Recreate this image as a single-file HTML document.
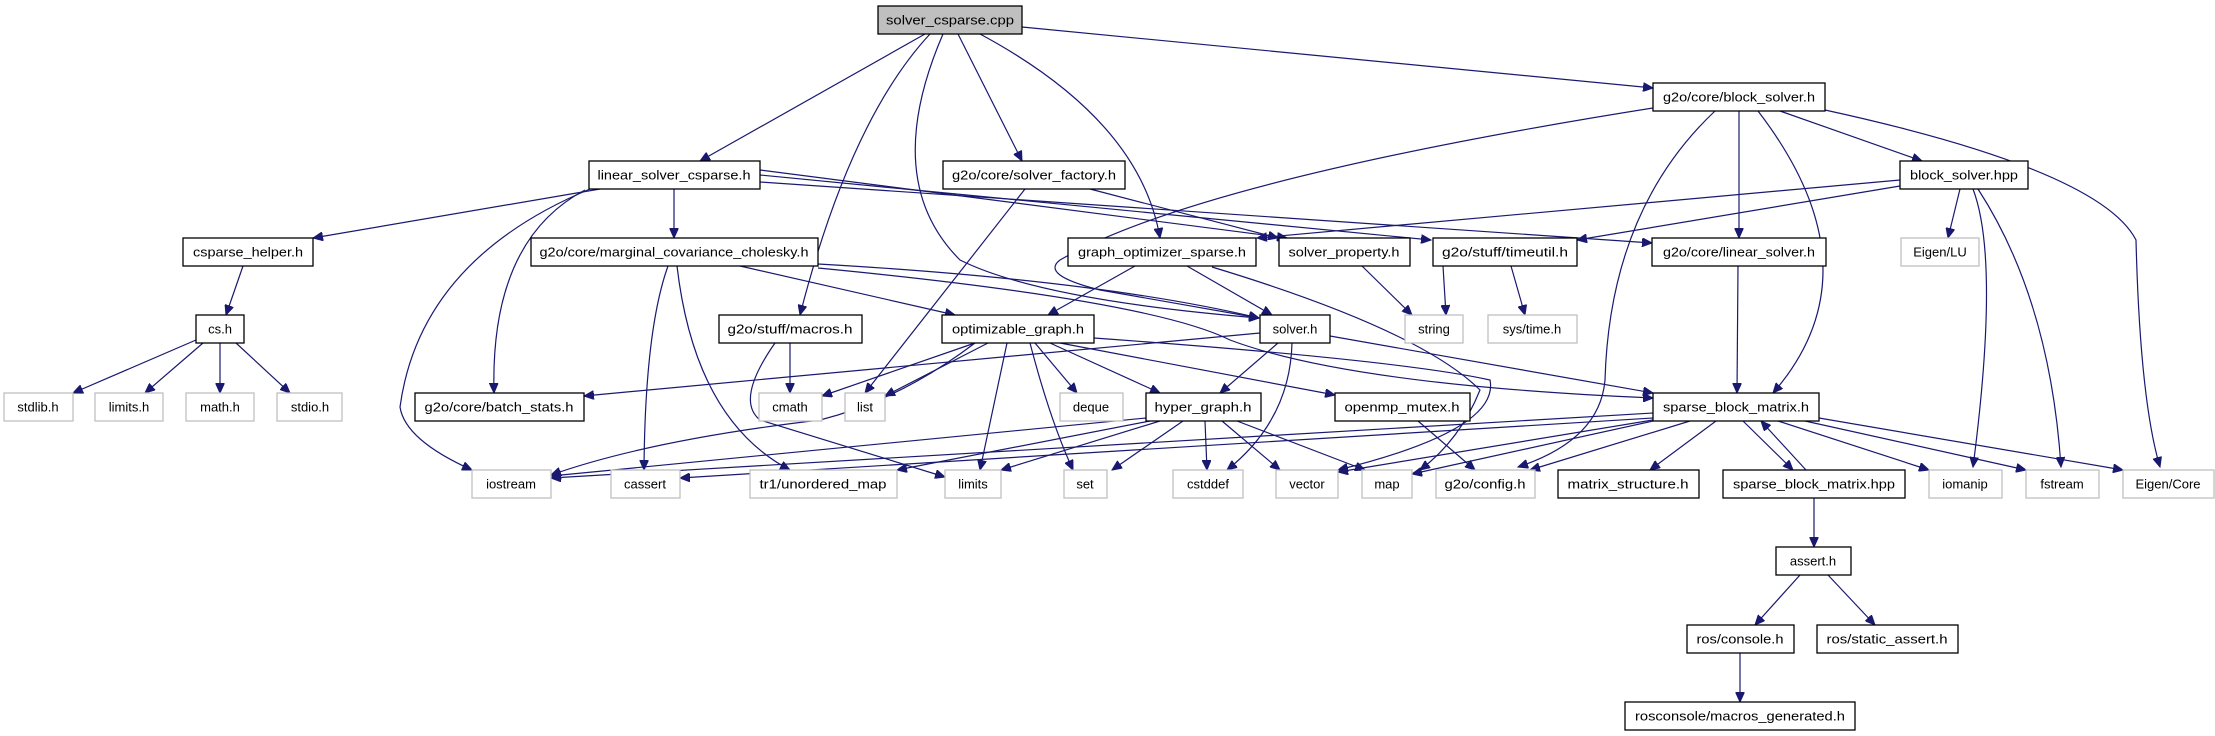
<!DOCTYPE html>
<html><head><meta charset="utf-8"><style>
html,body{margin:0;padding:0;background:#fff;}
svg{display:block}
text{font-family:"Liberation Sans",sans-serif;font-size:13px;fill:#000;text-anchor:middle;dominant-baseline:central}
.b{fill:#fff;stroke:#000;stroke-width:1.3}
.g{fill:#fff;stroke:#bfbfbf;stroke-width:1.3}
.e{fill:none;stroke:#191970;stroke-width:1.2;marker-end:url(#a)}
</style></head><body>
<svg width="2215" height="736" viewBox="0 0 2215 736" xmlns="http://www.w3.org/2000/svg">
<defs><marker id="a" markerWidth="11" markerHeight="9" refX="10" refY="4.5" orient="auto" markerUnits="userSpaceOnUse"><path d="M0,0 L10,4.5 L0,9 Z" fill="#191970" stroke="#191970"/></marker></defs>
<g>
<!-- root edges -->
<path class="e" d="M925,34 L700,161"/>
<path class="e" d="M930,34 Q850,120 800,315"/>
<path class="e" d="M943,34 Q880,180 960,260 Q1040,300 1259,318"/>
<path class="e" d="M958,34 L1022,161"/>
<path class="e" d="M980,34 Q1140,120 1160,238"/>
<path class="e" d="M1022,27 L1653,88"/>
<!-- block_solver.h -->
<path class="e" d="M1653,108 Q1200,180 1060,260 Q1040,275 1100,290 L1259,318"/>
<path class="e" d="M1715,111 Q1610,210 1605,380 Q1600,440 1518,467"/>
<path class="e" d="M1739,111 L1739,238"/>
<path class="e" d="M1758,111 Q1880,270 1773,393"/>
<path class="e" d="M1780,111 L1922,161"/>
<path class="e" d="M1825,110 Q2100,170 2136,240 Q2140,400 2160,467"/>
<!-- block_solver.hpp -->
<path class="e" d="M1900,180 L1257,238"/>
<path class="e" d="M1900,186 L1577,240"/>
<path class="e" d="M1960,189 L1948,238"/>
<path class="e" d="M1973,189 Q2000,260 1973,467"/>
<path class="e" d="M1978,189 Q2050,300 2061,467"/>
<!-- linear_solver_csparse.h -->
<path class="e" d="M600,189 L313,238"/>
<path class="e" d="M674,189 L674,238"/>
<path class="e" d="M585,190 Q490,240 494,393"/>
<path class="e" d="M590,189 Q420,260 400,407 Q405,440 472,470"/>
<path class="e" d="M760,170 L1287,238"/>
<path class="e" d="M760,175 L1431,240"/>
<path class="e" d="M760,182 L1652,243"/>
<!-- solver_factory.h -->
<path class="e" d="M1025,189 L865,393"/>
<path class="e" d="M1090,189 L1278,238"/>
<!-- marginal_cov -->
<path class="e" d="M668,266 Q645,330 644,470"/>
<path class="e" d="M677,266 Q695,420 790,470"/>
<path class="e" d="M740,266 L955,315"/>
<path class="e" d="M818,264 Q1100,280 1259,318"/>
<path class="e" d="M818,268 Q1150,300 1230,340 Q1350,385 1653,398"/>
<!-- macros.h -->
<path class="e" d="M790,343 L790,393"/>
<path class="e" d="M775,343 Q735,400 760,420 L945,477"/>
<!-- graph_optimizer_sparse.h -->
<path class="e" d="M1135,266 L1048,315"/>
<path class="e" d="M1187,266 L1272,315"/>
<path class="e" d="M1212,267 Q1420,330 1480,390 Q1460,440 1420,470"/>
<!-- solver_property / timeutil -->
<path class="e" d="M1362,266 L1412,315"/>
<path class="e" d="M1443,266 L1446,315"/>
<path class="e" d="M1511,266 L1525,315"/>
<path class="e" d="M1738,266 L1737,393"/>
<!-- csparse_helper / cs.h -->
<path class="e" d="M243,266 L226,315"/>
<path class="e" d="M196,340 L73,393"/>
<path class="e" d="M203,343 L145,393"/>
<path class="e" d="M220,343 L220,393"/>
<path class="e" d="M236,343 L290,393"/>
<!-- optimizable_graph.h -->
<path class="e" d="M975,343 L822,396"/>
<path class="e" d="M988,343 L885,396"/>
<path class="e" d="M975,343 Q900,400 820,420 Q650,440 551,475"/>
<path class="e" d="M1007,343 L980,470"/>
<path class="e" d="M1030,343 Q1050,420 1073,470"/>
<path class="e" d="M1035,343 L1077,393"/>
<path class="e" d="M1050,343 L1160,393"/>
<path class="e" d="M1060,343 L1335,395"/>
<path class="e" d="M1094,338 Q1400,360 1490,380 Q1500,430 1338,470"/>
<!-- solver.h -->
<path class="e" d="M1260,333 L584,396"/>
<path class="e" d="M1278,343 L1220,393"/>
<path class="e" d="M1292,343 Q1290,420 1227,470"/>
<path class="e" d="M1330,336 L1653,393"/>
<!-- hyper_graph.h -->
<path class="e" d="M1146,418 L551,476"/>
<path class="e" d="M1150,421 L897,470"/>
<path class="e" d="M1160,421 L1001,470"/>
<path class="e" d="M1183,421 L1112,470"/>
<path class="e" d="M1205,421 L1207,470"/>
<path class="e" d="M1222,421 L1280,470"/>
<path class="e" d="M1237,421 L1365,470"/>
<path class="e" d="M1418,421 L1475,470"/>
<!-- sparse_block_matrix.h -->
<path class="e" d="M1653,413 L551,478"/>
<path class="e" d="M1653,418 L680,478"/>
<path class="e" d="M1653,420 L1338,472"/>
<path class="e" d="M1653,421 L1412,474"/>
<path class="e" d="M1690,421 L1530,470"/>
<path class="e" d="M1716,421 L1650,470"/>
<path class="e" d="M1743,421 L1793,470"/>
<path class="e" d="M1806,470 L1761,421"/>
<path class="e" d="M1778,421 L1929,470"/>
<path class="e" d="M1805,421 L2026,470"/>
<path class="e" d="M1819,418 L2123,470"/>
<path class="e" d="M1814,498 L1814,547"/>
<path class="e" d="M1800,575 L1755,625"/>
<path class="e" d="M1828,575 L1875,625"/>
<path class="e" d="M1740,653 L1740,702"/>
</g>
<g>
<rect x="878" y="6" width="144" height="28" fill="#bfbfbf" stroke="#000" stroke-width="1.3"/><text x="950" y="20" textLength="128" lengthAdjust="spacingAndGlyphs">solver_csparse.cpp</text>
<rect class="b" x="1653" y="83" width="172" height="28"/><text x="1739" y="97" textLength="152" lengthAdjust="spacingAndGlyphs">g2o/core/block_solver.h</text>
<rect class="b" x="589" y="161" width="171" height="28"/><text x="674" y="175" textLength="153" lengthAdjust="spacingAndGlyphs">linear_solver_csparse.h</text>
<rect class="b" x="943" y="161" width="182" height="28"/><text x="1034" y="175" textLength="164" lengthAdjust="spacingAndGlyphs">g2o/core/solver_factory.h</text>
<rect class="b" x="1900" y="161" width="128" height="28"/><text x="1964" y="175" textLength="108" lengthAdjust="spacingAndGlyphs">block_solver.hpp</text>
<rect class="b" x="183" y="238" width="130" height="28"/><text x="248" y="252" textLength="110" lengthAdjust="spacingAndGlyphs">csparse_helper.h</text>
<rect class="b" x="531" y="238" width="287" height="28"/><text x="674" y="252" textLength="269" lengthAdjust="spacingAndGlyphs">g2o/core/marginal_covariance_cholesky.h</text>
<rect class="b" x="1068" y="238" width="188" height="28"/><text x="1162" y="252" textLength="168" lengthAdjust="spacingAndGlyphs">graph_optimizer_sparse.h</text>
<rect class="b" x="1279" y="238" width="131" height="28"/><text x="1344" y="252" textLength="111" lengthAdjust="spacingAndGlyphs">solver_property.h</text>
<rect class="b" x="1433" y="238" width="144" height="28"/><text x="1505" y="252" textLength="126" lengthAdjust="spacingAndGlyphs">g2o/stuff/timeutil.h</text>
<rect class="b" x="1652" y="238" width="174" height="28"/><text x="1739" y="252" textLength="152" lengthAdjust="spacingAndGlyphs">g2o/core/linear_solver.h</text>
<rect class="g" x="1901" y="238" width="78" height="28"/><text x="1940" y="252">Eigen/LU</text>
<rect class="b" x="196" y="315" width="48" height="28"/><text x="220" y="329">cs.h</text>
<rect class="b" x="719" y="315" width="143" height="28"/><text x="790" y="329" textLength="125" lengthAdjust="spacingAndGlyphs">g2o/stuff/macros.h</text>
<rect class="b" x="942" y="315" width="152" height="28"/><text x="1018" y="329" textLength="132" lengthAdjust="spacingAndGlyphs">optimizable_graph.h</text>
<rect class="b" x="1260" y="315" width="70" height="28"/><text x="1295" y="329">solver.h</text>
<rect class="g" x="1405" y="315" width="58" height="28"/><text x="1434" y="329">string</text>
<rect class="g" x="1488" y="315" width="89" height="28"/><text x="1532" y="329">sys/time.h</text>
<rect class="g" x="4" y="393" width="69" height="28"/><text x="38" y="407">stdlib.h</text>
<rect class="g" x="95" y="393" width="68" height="28"/><text x="129" y="407">limits.h</text>
<rect class="g" x="186" y="393" width="68" height="28"/><text x="220" y="407">math.h</text>
<rect class="g" x="277" y="393" width="65" height="28"/><text x="310" y="407">stdio.h</text>
<rect class="b" x="415" y="393" width="169" height="28"/><text x="499" y="407" textLength="149" lengthAdjust="spacingAndGlyphs">g2o/core/batch_stats.h</text>
<rect class="g" x="759" y="393" width="63" height="28"/><text x="790" y="407">cmath</text>
<rect class="g" x="845" y="393" width="40" height="28"/><text x="865" y="407">list</text>
<rect class="g" x="1060" y="393" width="63" height="28"/><text x="1091" y="407">deque</text>
<rect class="b" x="1146" y="393" width="115" height="28"/><text x="1203" y="407" textLength="97" lengthAdjust="spacingAndGlyphs">hyper_graph.h</text>
<rect class="b" x="1335" y="393" width="135" height="28"/><text x="1402" y="407" textLength="115" lengthAdjust="spacingAndGlyphs">openmp_mutex.h</text>
<rect class="b" x="1653" y="393" width="166" height="28"/><text x="1736" y="407" textLength="146" lengthAdjust="spacingAndGlyphs">sparse_block_matrix.h</text>
<rect class="g" x="472" y="470" width="79" height="28"/><text x="511" y="484">iostream</text>
<rect class="g" x="611" y="470" width="69" height="28"/><text x="645" y="484">cassert</text>
<rect class="g" x="750" y="470" width="147" height="28"/><text x="823" y="484" textLength="127" lengthAdjust="spacingAndGlyphs">tr1/unordered_map</text>
<rect class="g" x="945" y="470" width="56" height="28"/><text x="973" y="484">limits</text>
<rect class="g" x="1064" y="470" width="43" height="28"/><text x="1085" y="484">set</text>
<rect class="g" x="1173" y="470" width="70" height="28"/><text x="1208" y="484">cstddef</text>
<rect class="g" x="1276" y="470" width="62" height="28"/><text x="1307" y="484">vector</text>
<rect class="g" x="1362" y="470" width="50" height="28"/><text x="1387" y="484">map</text>
<rect class="g" x="1436" y="470" width="99" height="28"/><text x="1485" y="484" textLength="81" lengthAdjust="spacingAndGlyphs">g2o/config.h</text>
<rect class="b" x="1558" y="470" width="141" height="28"/><text x="1628" y="484" textLength="121" lengthAdjust="spacingAndGlyphs">matrix_structure.h</text>
<rect class="b" x="1723" y="470" width="182" height="28"/><text x="1814" y="484" textLength="162" lengthAdjust="spacingAndGlyphs">sparse_block_matrix.hpp</text>
<rect class="g" x="1929" y="470" width="73" height="28"/><text x="1965" y="484">iomanip</text>
<rect class="g" x="2026" y="470" width="73" height="28"/><text x="2062" y="484">fstream</text>
<rect class="g" x="2123" y="470" width="91" height="28"/><text x="2168" y="484">Eigen/Core</text>
<rect class="b" x="1776" y="547" width="75" height="28"/><text x="1813" y="561">assert.h</text>
<rect class="b" x="1687" y="625" width="107" height="28"/><text x="1740" y="639" textLength="87" lengthAdjust="spacingAndGlyphs">ros/console.h</text>
<rect class="b" x="1817" y="625" width="141" height="28"/><text x="1887" y="639" textLength="121" lengthAdjust="spacingAndGlyphs">ros/static_assert.h</text>
<rect class="b" x="1625" y="702" width="230" height="28"/><text x="1740" y="716" textLength="210" lengthAdjust="spacingAndGlyphs">rosconsole/macros_generated.h</text>
</g>
</svg>
</body></html>
